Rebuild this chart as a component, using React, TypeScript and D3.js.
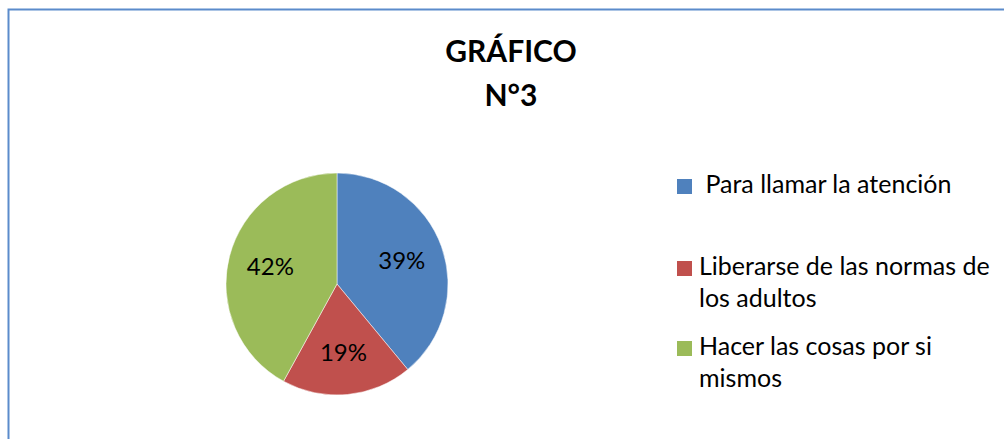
import { useEffect, useRef } from "react";
import * as d3 from "d3";

const categories = [
  "Para llamar la atención",
  "Liberarse de las normas de los adultos",
  "Hacer las cosas por si mismos",
];
const values = [39, 19, 42];
const colors = ["#4F81BD", "#C0504D", "#9BBB59"];
const legendLines = [
  [" Para llamar la atención"],
  ["Liberarse de las normas de", "los adultos"],
  ["Hacer las cosas por si", "mismos"],
];
const titleLines = ["GRÁFICO", "N°3"];

const W = 1004;
const H = 439;
const FONT = "Lato, 'Open Sans', sans-serif";

export default function App() {
  const svgRef = useRef<SVGSVGElement>(null);

  useEffect(() => {
    if (!svgRef.current) return;
    const svg = d3.select(svgRef.current);
    svg.selectAll("*").remove();

    // frame, only top and left edges show
    svg
      .append("rect")
      .attr("x", 8.5)
      .attr("y", 9.5)
      .attr("width", 1100)
      .attr("height", 600)
      .attr("fill", "#fff")
      .attr("stroke", "#5B8BCB")
      .attr("stroke-width", 2);

    // title
    const title = svg
      .append("text")
      .attr("text-anchor", "middle")
      .attr("font-family", FONT)
      .attr("font-weight", "bold")
      .attr("font-size", "30px")
      .attr("fill", "#000");
    titleLines.forEach((t, i) => {
      title
        .append("tspan")
        .attr("x", 511)
        .attr("y", 62 + i * 44)
        .text(t);
    });

    // pie
    const cx = 337;
    const cy = 284;
    const r = 111;
    const data = values.map((v, i) => ({ label: categories[i], value: v, color: colors[i] }));
    const pie = d3
      .pie<(typeof data)[number]>()
      .value((d) => d.value)
      .sort(null);
    const arc = d3
      .arc<d3.PieArcDatum<(typeof data)[number]>>()
      .innerRadius(0)
      .outerRadius(r);
    const labelArc = d3
      .arc<d3.PieArcDatum<(typeof data)[number]>>()
      .innerRadius(r * 0.62)
      .outerRadius(r * 0.62);

    const g = svg.append("g").attr("transform", `translate(${cx},${cy})`);
    const arcs = pie(data);
    g.selectAll("path")
      .data(arcs)
      .enter()
      .append("path")
      .attr("d", arc)
      .attr("fill", (d) => d.data.color)
      .attr("stroke", "#fff")
      .attr("stroke-width", 0.5);

    g.selectAll("text")
      .data(arcs)
      .enter()
      .append("text")
      .attr("transform", (d) => {
        const [x, y] = labelArc.centroid(d);
        return `translate(${x},${y})`;
      })
      .attr("text-anchor", "middle")
      .attr("dy", "0.35em")
      .attr("font-family", FONT)
      .attr("font-size", "24px")
      .attr("fill", "#000")
      .text((d) => `${d.data.value}%`);

    // legend
    const rowY = [193, 275, 355];
    const leg = svg.append("g");
    legendLines.forEach((lines, i) => {
      leg
        .append("rect")
        .attr("x", 677)
        .attr("y", rowY[i] - 14)
        .attr("width", 15)
        .attr("height", 15)
        .attr("fill", colors[i]);
      const t = leg
        .append("text")
        .attr("font-family", FONT)
        .attr("font-size", "25px")
        .attr("fill", "#000")
        .attr("xml:space", "preserve");
      lines.forEach((line, j) => {
        t.append("tspan")
          .attr("x", 699)
          .attr("y", rowY[i] + j * 32)
          .text(line);
      });
    });
  }, []);

  return (
    <div style={{ position: "absolute", left: 0, top: 0, width: W, height: H, overflow: "hidden", background: "#fff" }}>
      <svg ref={svgRef} width={W} height={H} style={{ display: "block" }} />
    </div>
  );
}
